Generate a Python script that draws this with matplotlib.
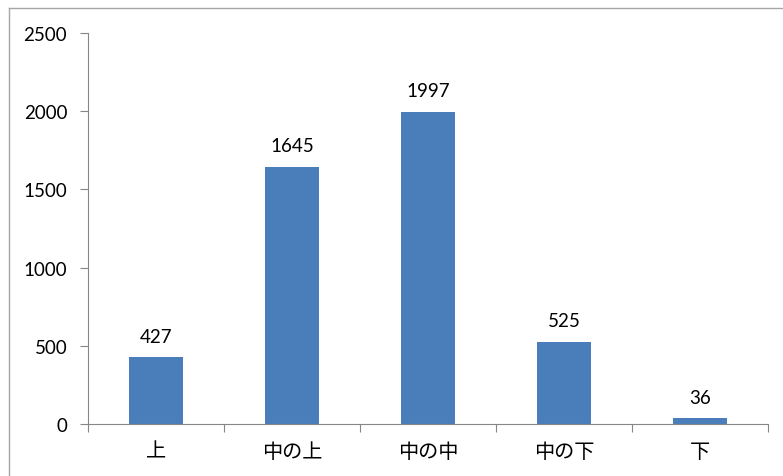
import matplotlib
matplotlib.use('Agg')
from matplotlib import pyplot as plt
from matplotlib.lines import Line2D

plt.rcParams['font.family'] = ['Lato', 'Noto Sans CJK JP', 'DejaVu Sans']

# データ
categories = ['上', '中の上', '中の中', '中の下', '下']
values = [427, 1645, 1997, 525, 36]
y_ticks = [0, 500, 1000, 1500, 2000, 2500]

fig = plt.figure(figsize=(7.83, 4.77), dpi=100)
ax = fig.add_axes([0.1124, 0.109, 0.8684, 0.8197])

x = list(range(len(categories)))
bars = ax.bar(x, values, width=0.4, color='#4a7ebb', zorder=2)

for xi, v in zip(x, values):
    ax.annotate(str(v), (xi, v), xytext=(0, 9), textcoords='offset points',
                ha='center', va='bottom', fontsize=13.5)

ax.set_xlim(-0.5, len(categories) - 0.5)
ax.set_ylim(0, 2500)
ax.set_yticks(y_ticks)
ax.set_yticklabels([str(t) for t in y_ticks], fontsize=13.5)

# 目盛り: 区切りに主目盛り、中央にラベル
ax.set_xticks([i - 0.5 for i in range(len(categories) + 1)])
ax.set_xticklabels([])
ax.set_xticks(x, minor=True)
ax.set_xticklabels(categories, minor=True, fontsize=14.5, family='Noto Sans CJK JP')
ax.tick_params(axis='x', which='minor', length=0, pad=12)
ax.tick_params(axis='x', which='major', length=6, color='#868686')
ax.tick_params(axis='y', length=6, color='#868686', pad=9)

for side in ['top', 'right']:
    ax.spines[side].set_visible(False)
for side in ['left', 'bottom']:
    ax.spines[side].set_color('#868686')

# グラフ外枠
fx = 9 / 783
fy = 1 - 9 / 477
fig.add_artist(Line2D([fx, fx], [0, fy], transform=fig.transFigure, color='#a6a6a6', lw=1))
fig.add_artist(Line2D([fx, 1], [fy, fy], transform=fig.transFigure, color='#a6a6a6', lw=1))

fig.savefig('out.png', dpi=100)
